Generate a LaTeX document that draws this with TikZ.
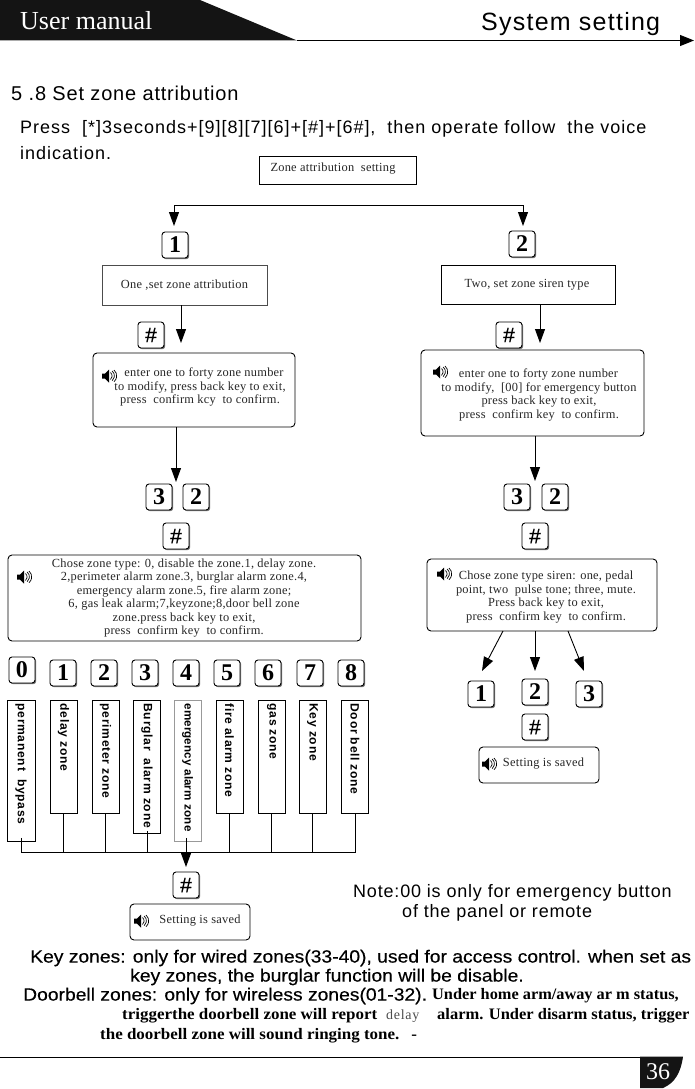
\documentclass[tikz,border=0pt]{standalone}
\usepackage{fontspec}
\setmainfont{Liberation Serif}
\setsansfont{Liberation Sans}
\usetikzlibrary{arrows.meta,shadows}
\newcommand{\serifnote}[1]{\fontsize{16}{20}\selectfont\bfseries\addfontfeature{FakeStretch=#1}}
\newcommand{\sansnote}{\fontsize{17.7}{20}\selectfont\sffamily\addfontfeature{FakeStretch=1.09,FakeBold=0.4}}
\tikzset{
  bigtip/.style={-{Triangle[width=10pt,length=14pt]}},
  link/.style={draw=black,line width=0.9pt},
  keycap/.style={draw=black,fill=white,line width=0.9pt,rounded corners=3pt,minimum width=26pt,minimum height=26pt,inner sep=0pt,
    font=\fontsize{24}{24}\selectfont\bfseries,drop shadow={shadow xshift=1.2pt,shadow yshift=-1.2pt,fill=black!55,opacity=1}},
  hashcap/.style={keycap,font=\fontsize{21}{22}\selectfont\sffamily\addfontfeature{FakeBold=0.6}},
  plainbox/.style={draw=black,line width=0.9pt,fill=white,inner sep=0pt},
  voicebox/.style={draw=black,line width=0.9pt,fill=white,rounded corners=4pt,inner sep=0pt},
  boxtext/.style={font=\fontsize{12.4}{13.5}\selectfont\addfontfeature{LetterSpace=2},align=center,inner sep=0pt,text=black!85},
  head/.style={font=\fontsize{18}{24}\selectfont\sffamily\addfontfeature{LetterSpace=5.5},anchor=west,inner sep=0pt},
  notes/.style={font=\sansnote,anchor=west,inner sep=0pt},
  notesb/.style={anchor=west,inner sep=0pt},
  noteplain/.style={font=\fontsize{18}{20}\selectfont\sffamily\addfontfeature{LetterSpace=4.5},anchor=west,inner sep=0pt},
  zone/.style={draw=black,line width=0.9pt,fill=white,rotate=-90,anchor=west,minimum height=27pt,inner ysep=0pt,inner xsep=3pt,align=left,
    font=\fontsize{12.1}{13}\selectfont\sffamily\bfseries\addfontfeature{LetterSpace=6}},
  spk/.pic={
    \fill (-8,-2.5) -- (-5,-2.5) -- (-1,-6.5) -- (-1,6.5) -- (-5,2.5) -- (-8,2.5) -- cycle;
    \draw[line width=0.7pt] (0.5,-3.5) arc (-50:50:4.5);
    \draw[line width=0.7pt] (2.2,-5) arc (-50:50:6.3);
    \draw[line width=0.7pt] (4,-6) arc (-50:50:7.6);
  }
}
\begin{document}
\begin{tikzpicture}[x=1pt,y=-1pt]
\useasboundingbox (0,0) rectangle (694,1089);
% header
\fill[black!92] (0,0) -- (200,0) -- (297,40.5) -- (0,40.5) -- cycle;
\coordinate (hs) at (297,40.5); \coordinate (he) at (694,40.5);
\draw[line width=0.9pt,-{Triangle[width=11pt,length=14pt]}] (hs) -- (he);
\node[anchor=west,inner sep=0pt,text=white,font=\fontsize{26}{26}\selectfont] (um) at (20,21) {User manual};
\node[anchor=west,inner sep=0pt,font=\fontsize{25}{26}\selectfont\sffamily\addfontfeature{LetterSpace=5}] (ss) at (481,24) {System setting};
\node[head,font=\fontsize{20}{24}\selectfont\sffamily\addfontfeature{LetterSpace=4}] (t58) at (11,93) {5 .8 Set zone attribution};
\node[head] (p1) at (20,129) {Press\ \ [*]3seconds+[9][8][7][6]+[\#]+[6\#],\ \ then operate follow\ \ the voice};
\node[head] (p2) at (20,153) {indication.};
% top box
\node[plainbox,minimum width=157pt,minimum height=28pt] (top) at (337.5,170) {};
\node[boxtext] (toptxt) at (333,169) {Zone attribution\ \ setting};
\coordinate (tl) at (174,205); \coordinate (tr) at (523,205);
\coordinate (tle) at (174,226); \coordinate (tre) at (523,226);
\draw[link] (tl) -- (tr);
\draw[link,bigtip] (tl) -- (tle);
\draw[link,bigtip] (tr) -- (tre);
\node[keycap] (k1) at (175,245) {1};
\node[keycap] (k2) at (522,244) {2};
% second row
\node[plainbox,draw=black!70,minimum width=165pt,minimum height=40pt] (one) at (184.5,285) {};
\node[boxtext] at (184.5,285) {One ,set zone attribution};
\node[plainbox,minimum width=174pt,minimum height=39pt] (two) at (528,284.5) {};
\node[boxtext] at (527,284.5) {Two, set zone siren type};
\coordinate (a1s) at (181,305); \coordinate (a1e) at (181,343);
\coordinate (a2s) at (540,304); \coordinate (a2e) at (540,343);
\draw[link,bigtip] (a1s) -- (a1e);
\draw[link,bigtip] (a2s) -- (a2e);
\node[hashcap] (h1) at (151,335) {\#};
\node[hashcap] (h2) at (509,335) {\#};
% voice boxes
\node[voicebox,minimum width=202pt,minimum height=74pt] (v1) at (194,390) {};
\pic at (110,376) {spk};
\node[boxtext] at (200,387) {\hspace*{8pt}enter one to forty zone number\\to modify, press back key to exit,\\press\ \ confirm kcy\ \ to confirm.};
\node[voicebox,minimum width=223pt,minimum height=86pt] (v2) at (532.5,393) {};
\pic at (441,372) {spk};
\node[boxtext] at (539,395) {\hspace*{-1pt}enter one to forty zone number\\to modify,\ \ [00] for emergency button\\press back key to exit,\\press\ \ confirm key\ \ to confirm.};
\coordinate (b1s) at (176,427); \coordinate (b1e) at (176,482);
\coordinate (b2s) at (535,436); \coordinate (b2e) at (535,481);
\draw[link,bigtip] (b1s) -- (b1e);
\draw[link,bigtip] (b2s) -- (b2e);
\node[keycap] (k3a) at (159,497) {3};
\node[keycap] (k2a) at (196,497) {2};
\node[keycap] (k3b) at (517,497) {3};
\node[keycap] (k2b) at (555,497) {2};
\node[hashcap] (h3) at (176,536) {\#};
\node[hashcap] (h4) at (535,536) {\#};
% type boxes
\node[voicebox,minimum width=353pt,minimum height=86pt] (t1) at (184.5,598) {};
\pic at (25,577) {spk};
\node[boxtext] at (184,598) {Chose zone type: 0, disable the zone.1, delay zone.\\2,perimeter alarm zone.3, burglar alarm zone.4,\\emergency alarm zone.5, fire alarm zone;\\6, gas leak alarm;7,keyzone;8,door bell zone\\zone.press back key to exit,\\press\ \ confirm key\ \ to confirm.};
\node[voicebox,minimum width=230pt,minimum height=72pt] (t2) at (542,595) {};
\pic at (445,574) {spk};
\node[boxtext] at (546,597) {Chose zone type siren: one, pedal\\point, two\ \ pulse tone; three, mute.\\Press back key to exit,\\press\ \ confirm key\ \ to confirm.};
% siren keys
\node[keycap] (s1) at (481,694) {1};
\node[keycap] (s2) at (535,692) {2};
\node[keycap] (s3) at (589,694) {3};
\coordinate (c1s) at (503,631); \coordinate (c1e) at (482,671);
\coordinate (c2s) at (535,631); \coordinate (c2e) at (535,671);
\coordinate (c3s) at (568,631); \coordinate (c3e) at (584,671);
\draw[link,bigtip] (c1s) -- (c1e);
\draw[link,bigtip] (c2s) -- (c2e);
\draw[link,bigtip] (c3s) -- (c3e);
\node[hashcap] (h5) at (535,727) {\#};
\node[voicebox,minimum width=120pt,minimum height=36pt] (sv2) at (539,765) {};
\pic at (490,764) {spk};
\node[boxtext] at (543.5,764) {Setting is saved};
% number keys
\node[keycap] (n0) at (22,670) {0};
\node[keycap] (n1) at (63,673) {1};
\node[keycap] (n2) at (104,673) {2};
\node[keycap] (n3) at (145,673) {3};
\node[keycap] (n4) at (186,673) {4};
\node[keycap] (n5) at (227,673) {5};
\node[keycap] (n6) at (268,673) {6};
\node[keycap] (n7) at (310,673) {7};
\node[keycap] (n8) at (351,673) {8};
% zone boxes
\node[zone,minimum width=141pt,minimum height=28pt,text width=135pt] (z0) at (21,700) {permanent\ \ bypass};
\node[zone,minimum width=113pt,text width=107pt] (z1) at (63.5,700) {delay zone};
\node[zone,minimum width=113pt,text width=107pt] (z2) at (105.5,700) {perimeter zone};
\node[zone,minimum width=133pt,text width=127pt] (z3) at (147,700) {Burglar\ \ alarm zone};
\node[zone,draw=black!40,minimum width=141pt,text width=135pt,font=\fontsize{11.6}{13}\selectfont\sffamily\bfseries\addfontfeature{LetterSpace=1}] (z4) at (187.5,700) {\mbox{emergency alarm zone}};
\node[zone,minimum width=113pt,text width=107pt] (z5) at (229.5,700) {fire alarm zone};
\node[zone,minimum width=113pt,text width=107pt] (z6) at (271.5,700) {gas zone};
\node[zone,minimum width=113pt,text width=107pt] (z7) at (312.5,700) {Key zone};
\node[zone,minimum width=113pt,text width=107pt] (z8) at (355,700) {Door bell zone};
% bus
\coordinate (bus) at (186,852.5);
\draw[line width=0.8pt] ([yshift=4pt]z0.east) -- (z0.east |- bus);
\draw[line width=0.8pt] ([yshift=3pt]z3.east) -- (z3.east |- bus);
\foreach \z in {z1,z2,z5,z6,z7,z8}{\draw[line width=0.8pt] (\z.east) -- (\z.east |- bus);}
\draw[line width=0.8pt] (z0.east |- bus) -- (z8.east |- bus);
\coordinate (ae) at (186,867);
\draw[link,bigtip] ([yshift=4pt]z4.east -| ae) -- (ae);
\node[hashcap] (h6) at (186,885) {\#};
\node[voicebox,minimum width=120pt,minimum height=36pt] (sv1) at (190,922) {};
\pic at (142,921) {spk};
\node[boxtext] at (200,921) {Setting is saved};
% notes
\node[noteplain] (n1t) at (353,893) {Note:00 is only for emergency button};
\node[noteplain] (n2t) at (402,913) {of the panel or remote};
\node[notes] (kz1) at (30,958) {Key zones: only for wired zones(33-40), used for access control. when set as};
\node[notes] (kz2) at (130,977) {key zones, the burglar function will be disable.};
\node[notes] (dz1) at (23,996) {Doorbell zones: only for wireless zones(01-32).};
\node[notesb,font=\serifnote{1.02}] (dz1b) at (432,996) {Under home arm/away ar m status,};
\node[notesb,font=\serifnote{1.06}] (dz2) at (122,1016) {triggerthe doorbell zone will report};
\node[notesb,font=\fontsize{14}{20}\selectfont\addfontfeature{LetterSpace=5},text=black!70] (dz2b) at (386,1016) {delay};
\node[notesb,font=\serifnote{1.03}] (dz2c) at (437,1016) {alarm. Under disarm status, trigger};
\node[notesb,font=\serifnote{1.06}] (dz3) at (100,1036) {the doorbell zone will sound ringing tone.\hspace*{12pt}-};
% footer
\coordinate (fs) at (0,1057); \coordinate (fe) at (640,1057);
\draw[line width=0.9pt] (fs) -- (fe);
\fill[black!92] (640,1056.5) -- (683,1056.5) .. controls (681,1072) and (675,1083) .. (663,1088) -- (640,1088) -- cycle;
\node[inner sep=0pt,text=white,font=\fontsize{24}{24}\selectfont] (pg) at (658,1072) {36};
\end{tikzpicture}
\end{document}
